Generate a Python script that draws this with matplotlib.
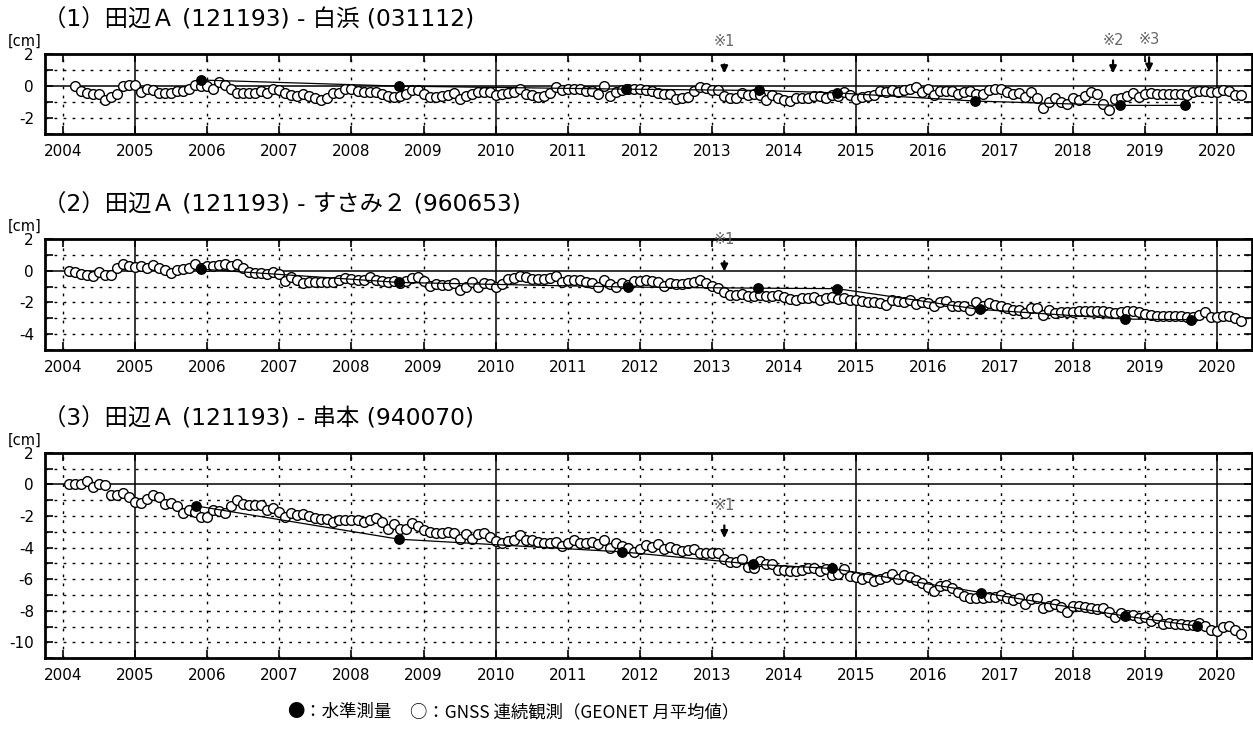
import numpy as np
import matplotlib
matplotlib.use("Agg")
import matplotlib.pyplot as plt
from matplotlib.ticker import MultipleLocator

plt.rcParams["font.family"] = ["DejaVu Sans", "Noto Sans CJK JP"]
plt.rcParams["axes.unicode_minus"] = False

# ---- data (cm) : GNSS monthly means, first value month given separately ----
gnss1_start = (2004, 3)
gnss1 = [
    0.0, -0.3, -0.4, -0.5, -0.5, -0.85, -0.65, -0.5, 0.0, 0.1,
    0.1, -0.35, -0.2, -0.25, -0.4, -0.4, -0.4, -0.3, -0.3, -0.2, 0.1, 0.0,
    0.0, -0.2, 0.25, 0.1, -0.2, -0.4, -0.4, -0.4, -0.4, -0.3, -0.45, -0.2,
    -0.25, -0.45, -0.55, -0.6, -0.5, -0.6, -0.75, -0.85, -0.75, -0.45, -0.4, -0.2,
    -0.15, -0.3, -0.35, -0.35, -0.35, -0.5, -0.6, -0.7, -0.6, -0.5, -0.25, -0.25,
    -0.5, -0.67, -0.67, -0.63, -0.57, -0.4, -0.8, -0.63, -0.46, -0.36, -0.36, -0.36,
    -0.57, -0.46, -0.4, -0.36, -0.15, -0.46, -0.57, -0.67, -0.63, -0.42, -0.08, -0.25,
    -0.15, -0.15, -0.15, -0.3, -0.3, -0.5, 0.0, -0.63, -0.36, -0.25, -0.2, -0.2,
    -0.2, -0.25, -0.32, -0.42, -0.5, -0.5, -0.78, -0.72, -0.67, -0.3, -0.04, -0.1,
    -0.25, -0.25, -0.63, -0.72, -0.72, -0.42, -0.57, -0.5, -0.55, -0.84, -0.57, -0.72,
    -0.84, -0.93, -0.72, -0.72, -0.72, -0.63, -0.63, -0.72, -0.57, -0.63, -0.36, -0.57,
    -0.78, -0.67, -0.63, -0.57, -0.3, -0.36, -0.25, -0.36, -0.25, -0.2, -0.08, -0.36,
    -0.15, -0.57, -0.3, -0.3, -0.3, -0.46, -0.36, -0.3, -0.5, -0.46, -0.25, -0.2,
    -0.2, -0.36, -0.5, -0.42, -0.67, -0.36, -0.72, -1.35, -1.0, -0.72, -1.0, -1.1,
    -0.72, -0.88, -0.63, -0.36, -0.5, -1.14, -1.47, -0.78, -0.72, -0.63, -0.42, -0.67,
    -0.5, -0.42, -0.46, -0.5, -0.46, -0.5, -0.5, -0.57, -0.36, -0.32, -0.3, -0.36,
    -0.36, -0.25, -0.32, -0.57, -0.57,
]

gnss2_start = (2004, 2)
gnss2 = [
    0.0, -0.1, -0.2, -0.25, -0.35, -0.05, -0.25, -0.25, 0.17, 0.45, 0.27,
    0.23, 0.27, 0.2, 0.33, 0.17, 0.06, -0.15, 0.06, 0.13, 0.17, 0.45, 0.2,
    0.27, 0.27, 0.33, 0.42, 0.27, 0.42, 0.2, -0.05, -0.15, -0.15, -0.2, -0.05,
    -0.2, -0.67, -0.4, -0.6, -0.78, -0.74, -0.74, -0.74, -0.74, -0.74, -0.6, -0.46,
    -0.52, -0.6, -0.57, -0.4, -0.57, -0.67, -0.74, -0.67, -0.76, -0.62, -0.48, -0.42,
    -0.67, -0.95, -0.82, -0.88, -0.88, -0.78, -1.2, -1.0, -0.74, -1.03, -0.78, -0.82,
    -1.03, -0.82, -0.53, -0.46, -0.32, -0.4, -0.53, -0.53, -0.53, -0.46, -0.32, -0.74,
    -0.57, -0.6, -0.6, -0.74, -0.78, -1.0, -0.57, -0.84, -1.0, -0.78, -0.9, -0.67,
    -0.67, -0.6, -0.67, -0.74, -0.95, -0.78, -0.84, -0.82, -0.78, -0.74, -0.6, -0.78,
    -0.95, -1.1, -1.37, -1.5, -1.5, -1.45, -1.58, -1.62, -1.5, -1.62, -1.58, -1.5,
    -1.66, -1.8, -1.87, -1.72, -1.72, -1.66, -1.83, -1.72, -1.66, -1.8, -1.72, -1.83,
    -1.87, -1.93, -2.0, -2.0, -2.04, -2.14, -1.83, -1.93, -2.0, -1.83, -2.08, -2.0,
    -2.04, -2.2, -2.0, -1.93, -2.2, -2.25, -2.25, -2.5, -2.0, -2.25, -2.04, -2.14,
    -2.25, -2.35, -2.5, -2.5, -2.67, -2.35, -2.35, -2.77, -2.5, -2.67, -2.63, -2.63,
    -2.63, -2.57, -2.57, -2.57, -2.57, -2.57, -2.63, -2.67, -2.59, -2.57, -2.57, -2.63,
    -2.71, -2.77, -2.84, -2.84, -2.84, -2.88, -2.88, -2.92, -2.92, -2.77, -2.63, -2.92,
    -2.94, -2.88, -2.84, -2.98, -3.15,
]

gnss3_start = (2004, 2)
gnss3 = [
    0.0, 0.0, 0.0, 0.2, -0.17, 0.0, -0.06, -0.7, -0.7, -0.55, -0.8,
    -1.1, -1.18, -0.9, -0.7, -0.8, -1.22, -1.16, -1.37, -1.8, -1.64, -1.75, -2.06,
    -2.06, -1.64, -1.68, -1.8, -1.37, -1.0, -1.22, -1.28, -1.28, -1.28, -1.64, -1.47,
    -1.75, -2.06, -1.8, -1.96, -1.9, -2.02, -2.1, -2.17, -2.17, -2.38, -2.27, -2.27,
    -2.27, -2.27, -2.38, -2.23, -2.1, -2.38, -2.8, -2.52, -2.8, -2.8, -2.44, -2.65,
    -2.86, -3.0, -3.07, -3.07, -3.0, -3.07, -3.43, -3.15, -3.43, -3.11, -3.07, -3.36,
    -3.57, -3.74, -3.57, -3.53, -3.22, -3.49, -3.49, -3.64, -3.7, -3.7, -3.64, -3.91,
    -3.7, -3.53, -3.7, -3.7, -3.64, -3.79, -3.53, -4.0, -3.7, -3.91, -4.0, -4.27,
    -4.12, -3.85, -3.95, -3.79, -4.12, -3.95, -4.06, -4.2, -4.16, -4.06, -4.33, -4.37,
    -4.33, -4.33, -4.69, -4.9, -4.9, -4.75, -5.2, -5.26, -4.84, -5.05, -5.05, -5.43,
    -5.43, -5.47, -5.47, -5.43, -5.32, -5.26, -5.47, -5.38, -5.74, -5.68, -5.38, -5.8,
    -5.85, -6.01, -5.89, -6.1, -6.01, -5.89, -5.68, -6.01, -5.74, -5.89, -6.06, -6.27,
    -6.48, -6.73, -6.44, -6.37, -6.58, -6.79, -7.07, -7.21, -7.21, -7.21, -7.15, -7.11,
    -7.0, -7.21, -7.32, -7.21, -7.57, -7.28, -7.21, -7.84, -7.7, -7.57, -7.74, -8.05,
    -7.7, -7.7, -7.74, -7.84, -7.9, -7.84, -8.05, -8.37, -8.12, -8.26, -8.26, -8.48,
    -8.41, -8.62, -8.48, -8.83, -8.79, -8.83, -8.83, -8.9, -8.9, -8.75, -8.96, -9.21,
    -9.25, -9.0, -8.96, -9.21, -9.46,
]

# leveling survey (decimal year, cm)
lev1_t = [2005.91, 2008.66, 2011.81, 2013.65, 2014.73, 2016.65, 2018.65, 2019.56]
lev1_v = [0.38, 0.0, -0.19, -0.27, -0.42, -0.93, -1.2, -1.2]
lev2_t = [2005.91, 2008.66, 2011.83, 2013.63, 2014.73, 2016.71, 2018.72, 2019.64]
lev2_v = [0.1, -0.74, -1.03, -1.1, -1.13, -2.44, -3.05, -3.09]
lev3_t = [2005.85, 2008.66, 2011.75, 2013.57, 2014.66, 2016.73, 2018.73, 2019.72]
lev3_v = [-1.37, -3.47, -4.27, -5.05, -5.32, -6.84, -8.33, -8.96]

titles = [
    "（1）田辺Ａ (121193) - 白浜 (031112)",
    "（2）田辺Ａ (121193) - すさみ２ (960653)",
    "（3）田辺Ａ (121193) - 串本 (940070)",
]
ylims = [(-3, 2), (-5, 2), (-11, 2)]
years = list(range(2004, 2021))

# notes: (label, year, text y, arrow start y, arrow end y)
notes1 = [("※1", 2013.17, 2.75, 1.35, 0.8),
          ("※2", 2018.56, 2.85, 1.6, 0.8),
          ("※3", 2019.06, 2.9, 1.8, 0.9)]
notes2 = [("※1", 2013.17, 1.95, 0.6, -0.05)]
notes3 = [("※1", 2013.17, -1.37, -2.6, -3.4)]


def month_times(start, n):
    k0 = (start[0] - 2004) * 12 + (start[1] - 1)
    return 2004 + (k0 + np.arange(n)) / 12.0


fig = plt.figure(figsize=(12.53, 7.40), dpi=100)
W, H = 1253.0, 740.0
boxes = [(54, 134.3), (239, 350), (452.7, 658.3)]  # top / bottom pixel rows

panels = [
    (gnss1_start, gnss1, lev1_t, lev1_v, notes1),
    (gnss2_start, gnss2, lev2_t, lev2_v, notes2),
    (gnss3_start, gnss3, lev3_t, lev3_v, notes3),
]

for i, (start, gv, lt, lv, notes) in enumerate(panels):
    top, bot = boxes[i]
    ax = fig.add_axes([45 / W, 1 - bot / H, (1251.5 - 45) / W, (bot - top) / H])
    lo, hi = ylims[i]
    ax.set_xlim(2003.75, 2020.48)
    ax.set_ylim(lo, hi)

    # grid
    for yr in years:
        if yr % 5 == 0:
            ax.axvline(yr, color="k", lw=1.1, zorder=1)
        else:
            ax.axvline(yr, color="k", lw=1.0, ls=(0, (2, 4.5)), zorder=1)
    for yv in range(lo + 1, hi):
        if yv == 0:
            ax.axhline(0, color="k", lw=1.1, zorder=1)
        else:
            ax.axhline(yv, color="k", lw=1.0, ls=(0, (2, 4.5)), zorder=1)

    t = month_times(start, len(gv))
    ax.plot(t, gv, "o", ms=7, mfc="white", mec="k", mew=1.0, zorder=3)
    ax.plot(lt, lv, "-", color="k", lw=0.9, zorder=4)
    ax.plot(lt, lv, "o", ms=6.8, color="k", zorder=5)

    ax.set_xticks(years)
    ax.set_xticklabels([str(y) for y in years])
    ax.yaxis.set_major_locator(MultipleLocator(2))
    ax.yaxis.set_minor_locator(MultipleLocator(1))
    ax.tick_params(which="both", direction="in", top=True, right=True,
                   length=6, width=1.2, labelsize=11)
    ax.tick_params(axis="x", pad=7)
    ax.tick_params(axis="y", pad=8)
    for s in ax.spines.values():
        s.set_linewidth(2)

    ax.annotate(titles[i], xy=(0, 1), xycoords="axes fraction",
                xytext=(-2, 34), textcoords="offset pixels",
                ha="left", va="center", fontsize=16.8,
                family=["DejaVu Sans", "Noto Sans CJK JP"])
    ax.annotate("[cm]", xy=(0, 1), xycoords="axes fraction",
                xytext=(-20, 12.5), textcoords="offset pixels",
                ha="center", va="center", fontsize=10.5)

    for lab, nx, ty, ya, yb in notes:
        ax.annotate("", xy=(nx, yb), xytext=(nx, ya),
                    arrowprops=dict(arrowstyle="-|>", color="k", lw=1.6,
                                    mutation_scale=10, shrinkA=0, shrinkB=0),
                    zorder=6, annotation_clip=False)
        ax.text(nx, ty, lab, color="#666666", fontsize=10.5, ha="center",
                va="center", clip_on=False, zorder=6)

fig.text(287 / W, 1 - 712 / H, "●：水準測量", fontsize=12.5,
         family=["Noto Sans CJK JP"], ha="left", va="center")
fig.text(410 / W, 1 - 712 / H, "○：GNSS 連続観測（GEONET 月平均値）", fontsize=12.5,
         family=["Noto Sans CJK JP"], ha="left", va="center")

fig.savefig("out.png", dpi=100)
